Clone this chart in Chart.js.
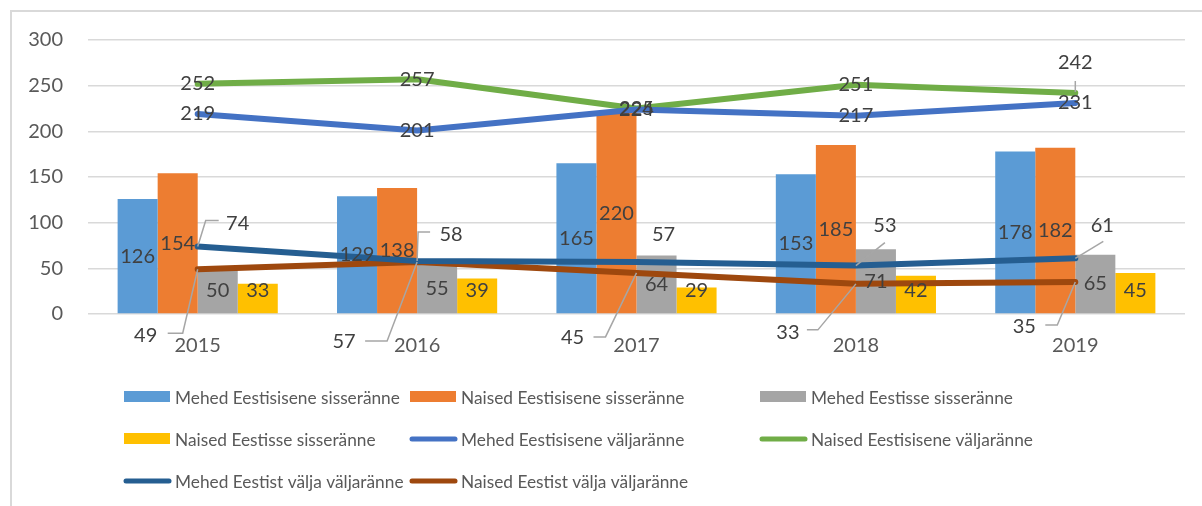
<!DOCTYPE html>
<html>
<head>
<meta charset="utf-8">
<script src="https://cdn.jsdelivr.net/npm/chart.js@4/dist/chart.umd.min.js"></script>
<style>
  html, body { margin: 0; padding: 0; background: #ffffff; }
  #wrap { width: 1202px; height: 506px; }
</style>
</head>
<body>
<div id="wrap"><canvas id="c" width="1202" height="506"></canvas></div>
<script>
// ---- data ----
const categories = ['2015', '2016', '2017', '2018', '2019'];
const yTicks = [0, 50, 100, 150, 200, 250, 300];

const mehedEestisiseneSisse = [126, 129, 165, 153, 178];
const naisedEestisiseneSisse = [154, 138, 220, 185, 182];
const mehedEestisseSisse = [50, 55, 64, 71, 65];
const naisedEestisseSisse = [33, 39, 29, 42, 45];
const mehedEestisiseneValja = [219, 201, 224, 217, 231];
const naisedEestisiseneValja = [252, 257, 225, 251, 242];
const mehedEestistValja = [74, 58, 57, 53, 61];
const naisedEestistValja = [49, 57, 45, 33, 35];

const seriesNames = [
  'Mehed Eestisisene sisseränne',
  'Naised Eestisisene sisseränne',
  'Mehed Eestisse sisseränne',
  'Naised Eestisse sisseränne',
  'Mehed Eestisisene väljaränne',
  'Naised Eestisisene väljaränne',
  'Mehed Eestist välja väljaränne',
  'Naised Eestist välja väljaränne'
];

// ---- styling ----
const FONT = 'Lato, "Open Sans", sans-serif';
const colors = ['#5B9BD5', '#ED7D31', '#A5A5A5', '#FFC000', '#4472C4', '#70AD47', '#255E91', '#9E480E'];

// label offsets for line-series data labels (pixel offsets from the point, plus leader paths)
const labelOffsets = {
  5: { 4: { dx: 0, dy: -30, leader: [[0, -12], [0, -1]] } },
  6: {
    0: { dx: 40, dy: -23, leader: [[0, 0], [8, -26], [21, -26]] },
    1: { dx: 34, dy: -26, leader: [[0, 0], [1, -29], [13, -29]] },
    2: { dx: 27, dy: -27 },
    3: { dx: 29, dy: -40, leader: [[0, 0], [29, -23]] },
    4: { dx: 27, dy: -33, leader: [[0, 0], [28, -17]] }
  },
  7: {
    0: { dx: -52, dy: 66, leader: [[0, 0], [-15, 64], [-30, 64]] },
    1: { dx: -73, dy: 80, leader: [[0, 0], [-30, 79], [-52, 79]] },
    2: { dx: -64, dy: 65, leader: [[0, 0], [-31, 64], [-43, 64]] },
    3: { dx: -68, dy: 49, leader: [[0, 0], [-38, 46], [-49, 46]] },
    4: { dx: -51, dy: 45, leader: [[0, 0], [-18, 43], [-30, 43]] }
  }
};

const legendLayout = { cols: [124, 410, 760], rows: [397, 439, 481], symW: 46, gap: 5 };

const frame = {
  id: 'frame',
  beforeDraw(chart) {
    const ctx = chart.ctx;
    ctx.save();
    ctx.fillStyle = '#ffffff';
    ctx.fillRect(0, 0, chart.width, chart.height);
    ctx.strokeStyle = '#D9D9D9';
    ctx.lineWidth = 2;
    ctx.strokeRect(11, 11, chart.width + 20, chart.height + 20);
    ctx.restore();
  }
};

const dataLabels = {
  id: 'dataLabels',
  afterDatasetsDraw(chart) {
    const ctx = chart.ctx;
    ctx.save();
    // leaders first
    ctx.strokeStyle = '#A6A6A6';
    ctx.lineWidth = 1.5;
    chart.data.datasets.forEach((ds, di) => {
      const meta = chart.getDatasetMeta(di);
      const offs = labelOffsets[di] || {};
      meta.data.forEach((el, i) => {
        const o = offs[i];
        if (o && o.leader) {
          ctx.beginPath();
          o.leader.forEach((p, k) => {
            if (k === 0) ctx.moveTo(el.x + p[0], el.y + p[1]);
            else ctx.lineTo(el.x + p[0], el.y + p[1]);
          });
          ctx.stroke();
        }
      });
    });
    ctx.font = '20px ' + FONT;
    ctx.fillStyle = '#404040';
    ctx.textAlign = 'center';
    ctx.textBaseline = 'middle';
    chart.data.datasets.forEach((ds, di) => {
      const meta = chart.getDatasetMeta(di);
      const offs = labelOffsets[di] || {};
      meta.data.forEach((el, i) => {
        const v = ds.data[i];
        let x = el.x, y;
        if (ds.type === 'bar') {
          y = Math.min((el.y + el.base) / 2, el.base - 23);
        } else {
          y = el.y;
          const o = offs[i];
          if (o) { x += o.dx; y += o.dy; }
        }
        ctx.fillText(String(v), x, y);
      });
    });
    ctx.restore();
  }
};

const customLegend = {
  id: 'customLegend',
  afterDraw(chart) {
    const ctx = chart.ctx;
    const L = legendLayout;
    ctx.save();
    ctx.font = '17.3px ' + FONT;
    ctx.fillStyle = '#595959';
    ctx.textAlign = 'left';
    ctx.textBaseline = 'middle';
    chart.data.datasets.forEach((ds, i) => {
      const x = L.cols[i % 3];
      const y = L.rows[Math.floor(i / 3)];
      if (ds.type === 'bar') {
        ctx.fillStyle = ds.backgroundColor;
        ctx.fillRect(x, y - 6, L.symW, 11);
      } else {
        ctx.strokeStyle = ds.borderColor;
        ctx.lineWidth = 5;
        ctx.lineCap = 'round';
        ctx.beginPath();
        ctx.moveTo(x + 2, y);
        ctx.lineTo(x + L.symW - 1, y);
        ctx.stroke();
      }
      ctx.fillStyle = '#595959';
      ctx.fillText(ds.label, x + L.symW + L.gap, y + 1);
    });
    ctx.restore();
  }
};

const seriesData = [
  mehedEestisiseneSisse, naisedEestisiseneSisse, mehedEestisseSisse, naisedEestisseSisse,
  mehedEestisiseneValja, naisedEestisiseneValja, mehedEestistValja, naisedEestistValja
];

const datasets = seriesData.map((d, i) => {
  const isBar = i < 4;
  if (isBar) {
    return {
      type: 'bar', label: seriesNames[i], data: d,
      backgroundColor: colors[i], borderWidth: 0,
      categoryPercentage: 0.73, barPercentage: 1.0, order: 2
    };
  }
  return {
    type: 'line', label: seriesNames[i], data: d,
    borderColor: colors[i], backgroundColor: colors[i],
    borderWidth: 6, pointRadius: 0, tension: 0, fill: false,
    borderCapStyle: 'round', borderJoinStyle: 'round', order: 1
  };
});

new Chart(document.getElementById('c'), {
  data: { labels: categories, datasets },
  plugins: [frame, dataLabels, customLegend],
  options: {
    responsive: false,
    animation: false,
    devicePixelRatio: 1,
    layout: { padding: { top: 40, right: 17, left: 0, bottom: 0 } },
    plugins: { legend: { display: false }, tooltip: { enabled: false } },
    scales: {
      x: {
        offset: true,
        grid: { display: false, drawTicks: false },
        border: { display: false },
        ticks: { color: '#595959', font: { family: FONT, size: 20 }, padding: 20, maxRotation: 0 },
        afterFit(scale) { scale.height = 192; }
      },
      y: {
        min: 0, max: 300,
        afterBuildTicks(scale) { scale.ticks = yTicks.map(v => ({ value: v })); },
        grid: { color: '#D9D9D9', lineWidth: 1.5, drawTicks: false },
        border: { display: false },
        ticks: { color: '#595959', font: { family: FONT, size: 20 }, padding: 25 },
        afterFit(scale) { scale.width = 88; }
      }
    }
  }
});
</script>
</body>
</html>
